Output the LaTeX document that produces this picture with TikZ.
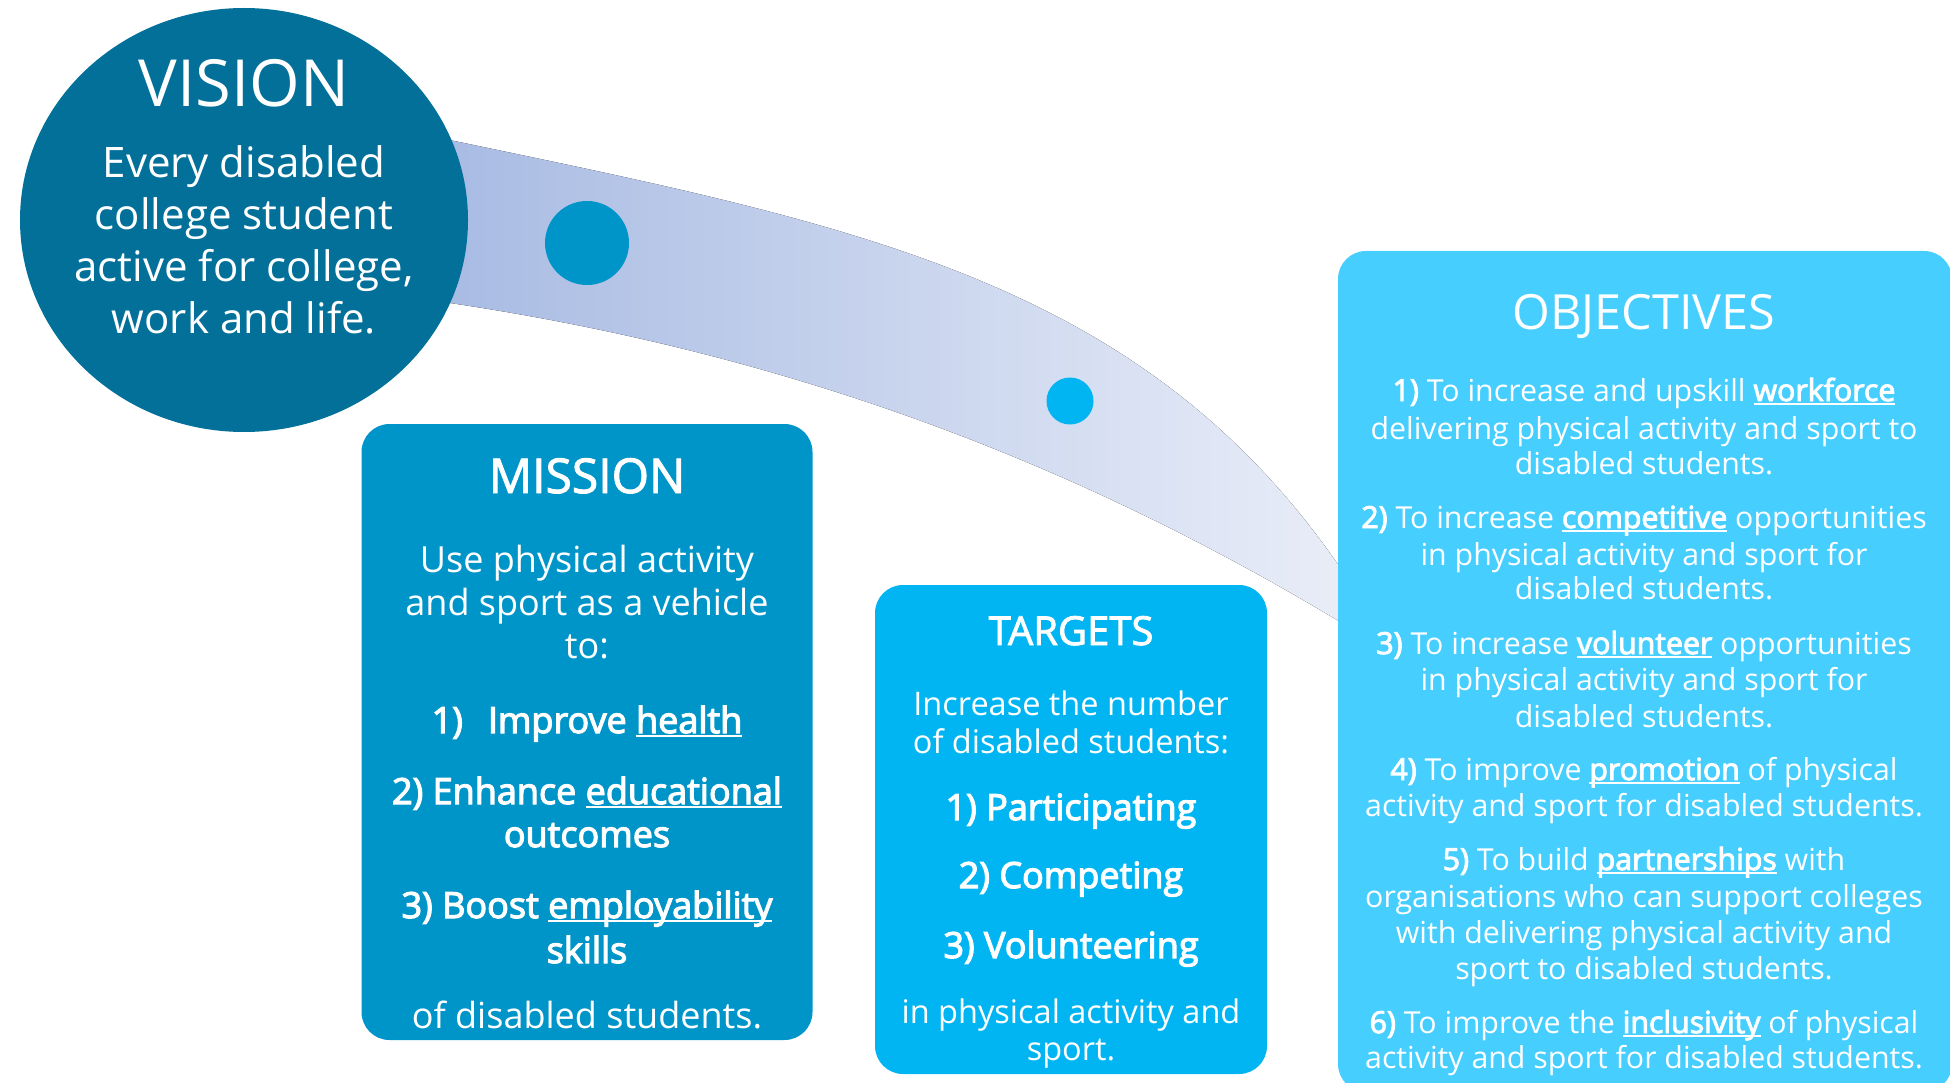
\documentclass[tikz,border=0pt]{standalone}
\usepackage{fontspec}
\setmainfont{Open Sans}
\newfontfamily\semib{Open Sans}[FakeBold=3.2]
\newfontfamily\semih{Open Sans}[FakeBold=2]
\newsavebox\ulbox
\newcommand\myul[1]{\sbox\ulbox{#1}\rlap{\rule[-4pt]{\wd\ulbox}{1.8pt}}\usebox\ulbox}
\usetikzlibrary{shapes.geometric}
\definecolor{visionc}{HTML}{03709A}
\definecolor{missionc}{HTML}{0095C9}
\definecolor{targetc}{HTML}{00B5F1}
\definecolor{objc}{HTML}{46CEFF}
\definecolor{bandL}{HTML}{A8BBE3}
\definecolor{bandR}{HTML}{EAEEF8}
\newcommand\fsz[2]{\fontsize{#1}{#2}\selectfont}
\begin{document}
\begin{tikzpicture}[x=1pt,y=-1pt,
  tl/.style={anchor=base,inner sep=0pt,text=white},
  box/.style={rectangle,rounded corners=28pt,inner sep=0pt,draw=none},
  dot/.style={circle,inner sep=0pt,draw=none}]
\useasboundingbox (0,0) rectangle (1950,1083);
\clip (0,0) rectangle (1950,1083);
% band
\fill[left color=bandL,right color=bandR]
  (440,138) .. controls (851,224) and (1137,277) .. (1337,563)
  -- (1365,603) -- (1365,637) -- (1337,620)
  .. controls (1087,470) and (801,354) .. (440,301.5) -- cycle;
% vision
\node[ellipse,fill=visionc,minimum width=448,minimum height=424,inner sep=0pt] (vision) at (244,220) {};
\node[dot,fill=missionc,minimum size=84] (dotA) at (587,243) {};
\node[dot,fill=targetc,minimum size=47] (dotB) at (1070,401) {};
% boxes
\node[box,fill=missionc,minimum width=451,minimum height=616] (mission) at (587,732) {};
\node[box,fill=targetc,minimum width=392,minimum height=489] (targets) at (1071,829.5) {};
\node[box,fill=objc,minimum width=614,minimum height=841] (objectives) at (1645,671.5) {};
% vision text
\node[tl,font=\fsz{65}{78}] (vt) at (244,107) {VISION};
\node[tl,font=\fsz{42}{51}] (v1) at (244,178) {Every disabled};
\node[tl,font=\fsz{42}{51}] (v2) at (244,230) {college student};
\node[tl,font=\fsz{42}{51}] (v3) at (244,281) {active for college,};
\node[tl,font=\fsz{42}{51}] (v4) at (244,333) {work and life.};
% mission text
\node[tl,font=\fsz{48}{56}\semih] (mt) at (587,493) {MISSION};
\node[tl,font=\fsz{36}{43}] (m1) at (587,572) {Use physical activity};
\node[tl,font=\fsz{36}{43}] (m2) at (587,615) {and sport as a vehicle};
\node[tl,font=\fsz{36}{43}] (m3) at (587,658) {to:};
\node[tl,font=\fsz{36}{43}\semib] (m4) at (587,733) {1)\hspace{25pt}Improve \myul{health}};
\node[tl,font=\fsz{36}{43}\semib] (m5) at (587,804) {2) Enhance \myul{educational}};
\node[tl,font=\fsz{36}{43}\semib] (m6) at (587,847) {outcomes};
\node[tl,font=\fsz{36}{43}\semib] (m7) at (587,918) {3) Boost \myul{employability}};
\node[tl,font=\fsz{36}{43}\semib] (m8) at (587,963) {skills};
\node[tl,font=\fsz{36}{43}] (m9) at (587,1028) {of disabled students.};
% targets text
\node[tl,font=\fsz{40}{48}\semih] (tt) at (1071,645) {TARGETS};
\node[tl,font=\fsz{32.5}{38}] (t1) at (1071,715) {Increase the number};
\node[tl,font=\fsz{32.5}{38}] (t2) at (1071,753) {of disabled students:};
\node[tl,font=\fsz{36}{42}\semib] (t3) at (1071,820) {1) Participating};
\node[tl,font=\fsz{36}{42}\semib] (t4) at (1071,888) {2) Competing};
\node[tl,font=\fsz{36}{42}\semib] (t5) at (1071,958) {3) Volunteering};
\node[tl,font=\fsz{32.5}{38}] (t6) at (1071,1023) {in physical activity and};
\node[tl,font=\fsz{32.5}{38}] (t7) at (1071,1060) {sport.};
% objectives text
\node[tl,font=\fsz{48.5}{56}] (ot) at (1644,329) {OBJECTIVES};
\begin{scope}[every node/.append style={tl,font=\fsz{30.3}{36}}]
\node (o1a) at (1644,401) {{\semib 1)} To increase and upskill {\semib\myul{workforce}}};
\node (o1b) at (1644,439) {delivering physical activity and sport to};
\node (o1c) at (1644,474) {disabled students.};
\node (o2a) at (1644,528) {{\semib 2)} To increase {\semib\myul{competitive}} opportunities};
\node (o2b) at (1644,565) {in physical activity and sport for};
\node (o2c) at (1644,599) {disabled students.};
\node (o3a) at (1644,654) {{\semib 3)} To increase {\semib\myul{volunteer}} opportunities};
\node (o3b) at (1644,690) {in physical activity and sport for};
\node (o3c) at (1644,727) {disabled students.};
\node (o4a) at (1644,780) {{\semib 4)} To improve {\semib\myul{promotion}} of physical};
\node (o4b) at (1644,816) {activity and sport for disabled students.};
\node (o5a) at (1644,870) {{\semib 5)} To build {\semib\myul{partnerships}} with};
\node (o5b) at (1644,907) {organisations who can support colleges};
\node (o5c) at (1644,943) {with delivering physical activity and};
\node (o5d) at (1644,979) {sport to disabled students.};
\node (o6a) at (1644,1033) {{\semib 6)} To improve the {\semib\myul{inclusivity}} of physical};
\node (o6b) at (1644,1068) {activity and sport for disabled students.};
\end{scope}
\end{tikzpicture}
\end{document}
